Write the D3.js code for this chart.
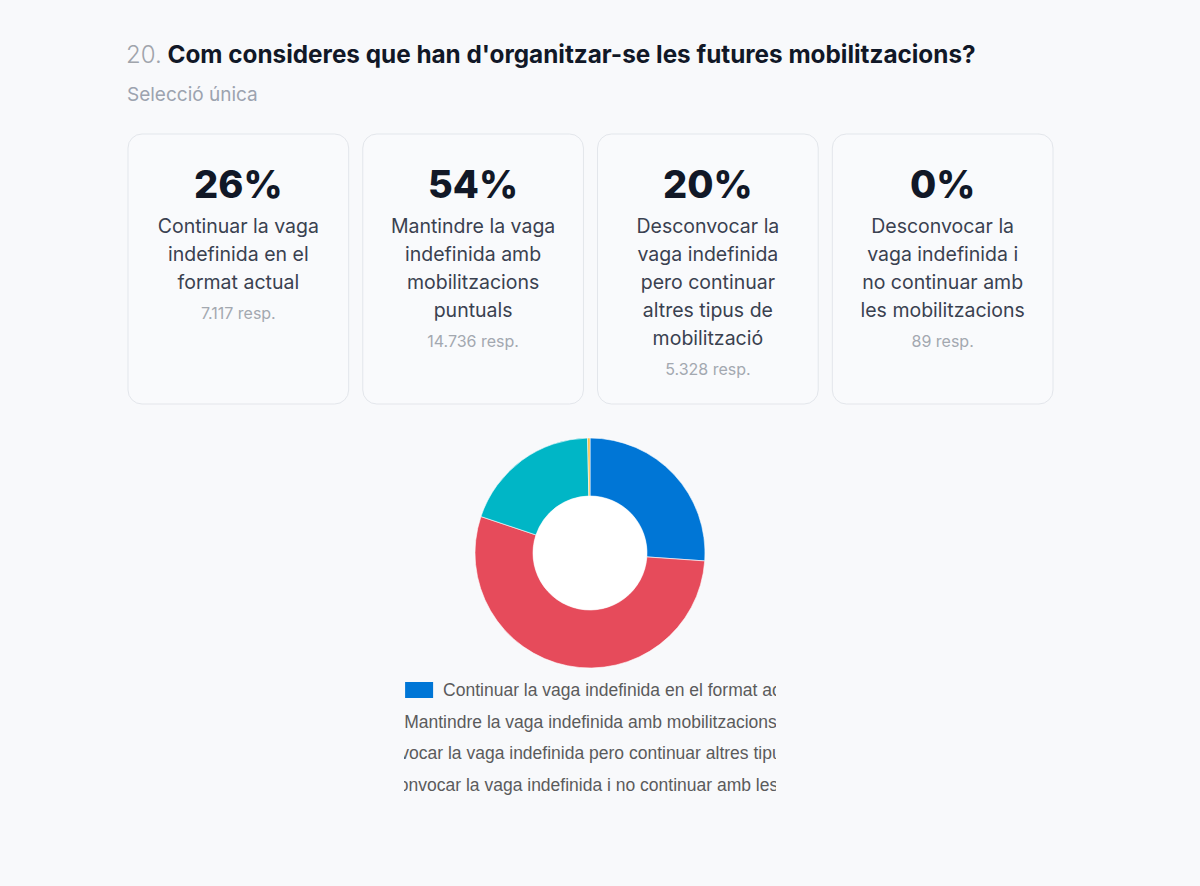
<!DOCTYPE html>
<html>
<head>
<meta charset="utf-8">
<script src="https://cdn.jsdelivr.net/npm/d3@7"></script>
<style>
  html, body { margin: 0; padding: 0; background: #f8f9fb; }
  svg { display: block; }
</style>
</head>
<body>
<svg id="chart" width="1200" height="886"></svg>
<script>
const questionNumber = "20.";
const questionTitle = "Com consideres que han d'organitzar-se les futures mobilitzacions?";
const questionSubtitle = "Selecció única";
const categories = [
  "Continuar la vaga indefinida en el format actual",
  "Mantindre la vaga indefinida amb mobilitzacions puntuals",
  "Desconvocar la vaga indefinida pero continuar altres tipus de mobilització",
  "Desconvocar la vaga indefinida i no continuar amb les mobilitzacions"
];
const responses = [7117, 14736, 5328, 89];
const percentLabels = ["26%", "54%", "20%", "0%"];
const responseLabels = ["7.117 resp.", "14.736 resp.", "5.328 resp.", "89 resp."];
const colors = ["#0076d6", "#e64b5b", "#00b6c6", "#f7b733"];

const svg = d3.select("#chart");
const W = 1200, H = 886;
const FONT = "Inter, 'Noto Sans', sans-serif";
svg.append("rect").attr("width", W).attr("height", H).attr("fill", "#f8f9fb");

// Title
const title = svg.append("text").attr("x", 126).attr("y", 63).attr("font-family", FONT);
title.append("tspan").text(questionNumber)
  .attr("font-size", 24).attr("fill", "#a0a4ab").attr("font-weight", 300);
title.append("tspan").text(" " + questionTitle)
  .attr("font-size", 24.3).attr("fill", "#111827").attr("font-weight", 700);
svg.append("text").attr("x", 127).attr("y", 101)
  .attr("font-family", FONT)
  .attr("font-size", 19).attr("fill", "#9ca3af").text(questionSubtitle);

// Cards
const cardX = d3.scaleBand().domain(d3.range(categories.length))
  .range([128, 1053]).paddingInner(0.06).paddingOuter(0);
const cardTop = 134, cardH = 270;
const cards = svg.selectAll("g.card").data(categories).join("g").attr("class", "card")
  .attr("transform", (d, i) => `translate(${cardX(i)},${cardTop})`);
cards.append("rect").attr("width", cardX.bandwidth()).attr("height", cardH)
  .attr("rx", 14).attr("fill", "#f9fafc").attr("stroke", "#e3e6eb").attr("stroke-width", 1);
cards.append("text").attr("x", cardX.bandwidth() / 2).attr("y", 64)
  .attr("text-anchor", "middle").attr("font-family", FONT)
  .attr("font-weight", 800).attr("font-size", 38).attr("fill", "#111827")
  .text((d, i) => percentLabels[i]);

const LABEL_FS = 19.5;
const measurer = svg.append("text").attr("font-family", FONT)
  .attr("font-size", LABEL_FS).attr("visibility", "hidden");
function wrap(str, maxW) {
  const words = str.split(" ");
  const lines = [];
  let cur = "";
  words.forEach(w => {
    const test = cur ? cur + " " + w : w;
    measurer.text(test);
    if (measurer.node().getComputedTextLength() > maxW && cur) {
      lines.push(cur); cur = w;
    } else cur = test;
  });
  if (cur) lines.push(cur);
  return lines;
}
cards.each(function(d, i) {
  const g = d3.select(this);
  const lines = wrap(d, 170);
  const cx = cardX.bandwidth() / 2;
  lines.forEach((ln, j) => {
    g.append("text").attr("x", cx).attr("y", 99 + j * 28)
      .attr("text-anchor", "middle").attr("font-family", FONT)
      .attr("font-size", LABEL_FS).attr("fill", "#3a4150").text(ln);
  });
  g.append("text").attr("x", cx).attr("y", 99 + (lines.length - 1) * 28 + 30)
    .attr("text-anchor", "middle").attr("font-family", FONT)
    .attr("font-size", 16).attr("fill", "#a3a8b0").text(responseLabels[i]);
});
measurer.remove();

// Donut
const cx = 590, cy = 553, outerR = 115, innerR = 57;
const pie = d3.pie().sort(null).value(d => d)(responses);
const arc = d3.arc().innerRadius(innerR).outerRadius(outerR);
const donut = svg.append("g").attr("transform", `translate(${cx},${cy})`);
donut.selectAll("path").data(pie).join("path")
  .attr("d", arc).attr("fill", (d, i) => colors[i])
  .attr("stroke", "#ffffff").attr("stroke-width", 0.6);
donut.append("circle").attr("r", innerR - 0.3).attr("fill", "#ffffff");

// Legend (clipped, centered rows)
const legLeft = 404, legRight = 776, legCenter = 607;
const defs = svg.append("defs");
defs.append("clipPath").attr("id", "legclip").append("rect")
  .attr("x", legLeft).attr("y", 670).attr("width", legRight - legLeft).attr("height", 140);
const legend = svg.append("g").attr("clip-path", "url(#legclip)");
const legY = d3.scalePoint().domain(d3.range(categories.length)).range([690, 785]);
categories.forEach((c, i) => {
  const t = legend.append("text").attr("y", legY(i) + 6)
    .attr("font-family", "'Liberation Sans', Arial, sans-serif")
    .attr("font-size", 17.5).attr("fill", "#5b5b5b").text(c);
  const tw = t.node().getComputedTextLength();
  const total = 28 + 10 + tw;
  const left = legCenter - total / 2;
  legend.append("rect").attr("x", left).attr("y", legY(i) - 8)
    .attr("width", 28).attr("height", 16).attr("fill", colors[i]);
  t.attr("x", left + 38);
});
</script>
</body>
</html>
